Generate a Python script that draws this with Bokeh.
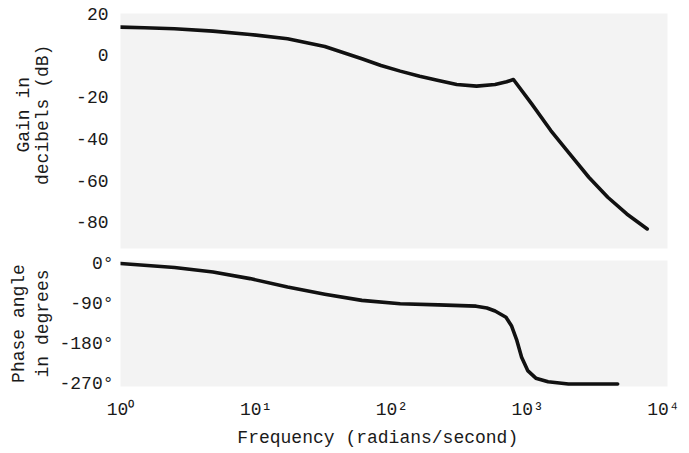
from bokeh.plotting import figure
from bokeh.layouts import column
from bokeh.models import Range1d, FixedTicker
from bokeh.embed import file_html
from bokeh.resources import INLINE

# Gain curve (frequency in rad/s, gain in dB)
freq_gain = [1.0, 1.5, 2.5, 4.8, 9, 17, 32, 60, 83, 115, 160, 220, 300, 420,
             575, 700, 785, 1070, 1480, 2040, 2820, 3890, 5370, 7600]
gain_db = [13.6, 13.3, 12.8, 11.7, 10.1, 8.0, 4.3, -1.6, -4.8, -7.5, -10.0,
           -12.0, -13.9, -14.7, -13.9, -12.6, -11.5, -23.2, -36.0, -47.2,
           -58.4, -68.0, -76.0, -83.2]

# Phase curve (frequency in rad/s, phase in degrees)
freq_phase = [1.0, 2.5, 4.8, 9, 17, 32, 60, 115, 220, 417, 501, 575, 692,
              759, 832, 902, 1000, 1148, 1413, 1995, 4600]
phase_deg = [0, -9, -19, -34, -53, -69, -83, -90.5, -93, -96, -100, -107,
             -121, -140, -173, -211, -241, -258, -266, -271, -271]

x_ticks = [1, 10, 100, 1000, 10000]
x_tick_labels = ["10\u2070", "10\u00b9", "10\u00b2", "10\u00b3", "10\u2074"]
gain_ticks = [20, 0, -20, -40, -60, -80]
gain_tick_labels = ["20", "0", "-20", "-40", "-60", "-80"]
phase_ticks = [0, -90, -180, -270]
phase_tick_labels = ["0\u00b0", "-90\u00b0", "-180\u00b0", "-270\u00b0"]

NB = "\u00a0"
FONT = "Liberation Mono"
FS = "18px"
TXT = "#1a1a1a"

x_range = Range1d(1, 10 ** 4.03)


def style_axis(ax):
    ax.axis_line_color = None
    ax.major_tick_line_color = None
    ax.minor_tick_line_color = None
    ax.major_tick_out = 0
    ax.major_tick_in = 0
    ax.minor_tick_out = 0
    ax.minor_tick_in = 0
    ax.major_label_text_font = FONT
    ax.major_label_text_font_size = FS
    ax.major_label_text_color = TXT
    ax.axis_label_text_font = FONT
    ax.axis_label_text_font_size = FS
    ax.axis_label_text_font_style = "normal"
    ax.axis_label_text_color = TXT


def style_fig(p):
    p.grid.grid_line_color = None
    p.outline_line_color = None
    p.background_fill_color = "#f3f3f3"
    p.border_fill_color = "white"


g = figure(width=689, height=250, x_axis_type="log", x_range=x_range,
           y_range=Range1d(-92.57, 20.14), x_axis_location=None,
           output_backend="svg", toolbar_location=None,
           min_border_left=120, min_border_right=22,
           min_border_top=13, min_border_bottom=2)
style_fig(g)
g.line(freq_gain, gain_db, line_color="#111111", line_width=3.6,
       line_join="round", line_cap="round")
ya = g.yaxis[0]
style_axis(ya)
ya.ticker = FixedTicker(ticks=gain_ticks)
ya.major_label_overrides = dict(zip(gain_ticks, gain_tick_labels))
ya.major_label_standoff = 12
ya.axis_label = NB * 3 + "Gain in\n" + NB * 3 + "decibels (dB)"
ya.axis_label_text_line_height = 0.95
ya.axis_label_standoff = 20

ph = figure(width=689, height=203, x_axis_type="log", x_range=x_range,
            y_range=Range1d(-276.75, 6.75),
            output_backend="svg", toolbar_location=None,
            min_border_left=120, min_border_right=22,
            min_border_top=10, min_border_bottom=67)
style_fig(ph)
ph.line(freq_phase, phase_deg, line_color="#111111", line_width=3.6,
        line_join="round", line_cap="round")
pya = ph.yaxis[0]
style_axis(pya)
pya.ticker = FixedTicker(ticks=phase_ticks)
pya.major_label_overrides = dict(zip(phase_ticks, phase_tick_labels))
pya.major_label_standoff = 7
pya.axis_label = "Phase angle\nin degrees"
pya.axis_label_standoff = 3

pxa = ph.xaxis[0]
style_axis(pxa)
pxa.ticker = FixedTicker(ticks=x_ticks, minor_ticks=[])
pxa.major_label_overrides = dict(zip(x_ticks, x_tick_labels))
pxa.major_label_standoff = 13
pxa.axis_label = "Frequency (radians/second)" + NB * 3
pxa.axis_label_standoff = 5

layout = column(g, ph, spacing=0)
open("out.html", "w").write(file_html(layout, INLINE))
